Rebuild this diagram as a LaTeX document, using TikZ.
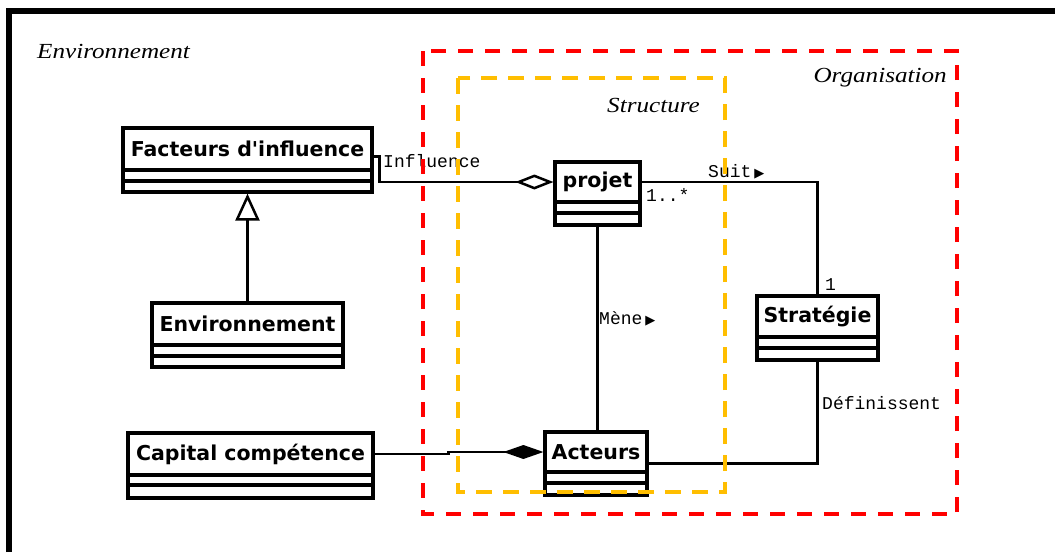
\documentclass[tikz,border=0pt]{standalone}
\usepackage{graphicx}
\usepackage{fontspec}
\setmainfont{Liberation Serif}
\newfontfamily\classfont{DejaVu Sans}
\newfontfamily\monofont{Liberation Mono}
\newfontfamily\symfont{DejaVu Sans}
\usetikzlibrary{arrows.meta,calc}
\definecolor{orgred}{RGB}{255,0,0}
\definecolor{structorange}{RGB}{255,190,0}
\tikzset{
  umlbox/.style={draw, line width=3.2pt, inner sep=0pt, fill=white},
  sepline/.style={line width=3.2pt},
  classname/.style={font=\classfont\bfseries\fontsize{20.5}{24}\selectfont, inner sep=0pt},
  conn/.style={line width=2.5pt},
  mono/.style={font=\monofont\fontsize{18}{20}\selectfont, inner sep=0pt},
  region/.style={font=\itshape\fontsize{21.5}{24}\selectfont, inner sep=0pt},
  orgbox/.style={draw=orgred, line width=4pt, dash pattern=on 15pt off 12pt},
  structbox/.style={draw=structorange, line width=4pt, dash pattern=on 16pt off 11pt},
  frameline/.style={line width=6pt},
}
\newcommand{\umlclass}[8]{%
  \node[umlbox, minimum width={#4-#2}, minimum height={#5-#3}] (#1) at ({(#2+#4)/2},{(#3+#5)/2}) {};
  \draw[sepline] (#2,#6) -- (#4,#6) (#2,#7) -- (#4,#7);
  \node[classname] (#1T) at ({(#2+#4)/2},{(#3+#6)/2}) {#8};
}
\newcommand{\tri}{{\symfont\fontsize{13}{13}\selectfont ▶}}
\begin{document}
\begin{tikzpicture}[x=1pt,y=-1pt]
  \useasboundingbox[fill=white] (0,0) rectangle (1055,552);
  % outer frame (top and left)
  \draw[frameline] (9,552) -- (9,11) -- (1055,11);

  % classes
  \umlclass{fact}{123}{128}{372}{192}{170}{181}{Facteurs d'influence}
  \umlclass{env}{152}{303}{343}{367}{345}{356}{Environnement}
  \umlclass{cap}{128}{433}{373}{498}{475}{485}{Capital compétence}
  \umlclass{act}{545}{432}{647}{495}{472}{483}{Acteurs}
  \umlclass{proj}{555}{162}{640}{225}{202}{213}{projet}
  \umlclass{strat}{757}{296}{878}{360}{337}{348}{Stratégie}

  % connectors
  \draw[conn, -{Diamond[open, fill=white, length=38pt, width=15pt]}]
    ($(fact.north east)+(0,30)$) -- ++(6,0) |- (proj.west |- projT);
  \draw[conn, -{Triangle[open, fill=white, length=27pt, width=24pt]}] (env.north) -- (fact.south);
  \draw[conn] (proj.east |- projT) -| (strat.north);
  \draw[conn] (proj.south) -- (proj.south |- act.north);
  \draw[conn] (strat.south) |- (act.east);
  \draw[conn, -{Diamond[length=40pt, width=14pt]}]
    (cap.east |- capT) -- ++(74,0) |- (act.west |- actT);

  % connector labels
  \node[mono, anchor=west] (linf) at (383,161) {Influence};
  \node[mono, anchor=west] (lmult) at (646,195) {1..*};
  \node[mono, anchor=west] (lsuit) at (708,172) {Suit\,\tri};
  \node[mono, anchor=west] (lone) at (825,285) {1};
  \node[mono, anchor=west] (lmene) at (599,319) {Mène\,\tri};
  \node[mono, anchor=west] (ldef) at (822,403) {Définissent};

  % regions
  \draw[orgbox] (423,51) rectangle (957,514);
  \draw[structbox] (458,78) rectangle (725,492);
  \node[region, anchor=base west] (lenv) at (37,58) {\scalebox{1.17}[1]{Environnement}};
  \node[region, anchor=base east] (lorg) at (947,82) {\scalebox{1.17}[1]{Organisation}};
  \node[region, anchor=base west] (lstruct) at (607,112) {\scalebox{1.17}[1]{Structure}};
\end{tikzpicture}
\end{document}
